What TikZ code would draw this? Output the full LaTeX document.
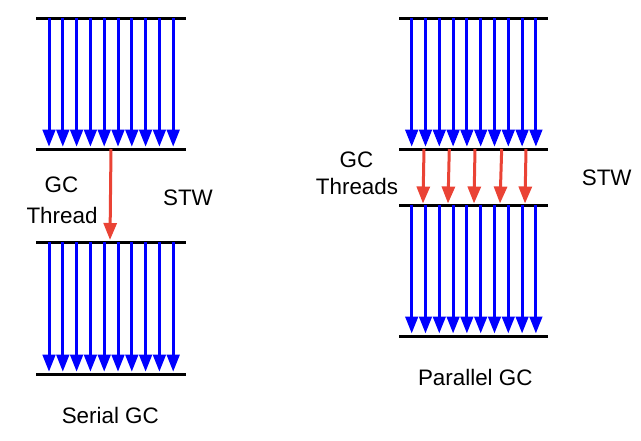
\documentclass[tikz,border=0pt]{standalone}
\usepackage{fontspec}
\setmainfont{Liberation Sans}
\usetikzlibrary{arrows.meta}
\definecolor{gcred}{RGB}{234,67,53}
\definecolor{gcblue}{RGB}{0,0,255}
\begin{document}
\begin{tikzpicture}[x=1pt,y=-1pt,
  bar/.style={line width=3pt,black},
  work/.style={gcblue,line width=3pt,-{Triangle[width=12.5pt,length=17pt]}},
  gcarrow/.style={gcred,line width=3pt,-{Triangle[width=13pt,length=17pt]}},
  lbl/.style={font=\fontsize{22.4}{30}\selectfont,inner sep=0pt,anchor=base}]
\useasboundingbox (0,0) rectangle (641,440);
% bars
\foreach \y/\n in {18/L1,149/L2,242/L3,374/L4}{
  \coordinate (\n w) at (36,\y); \coordinate (\n e) at (186,\y);
  \draw[bar] (\n w) -- (\n e);}
\foreach \y/\n in {18/R1,149/R2,205/R3,336/R4}{
  \coordinate (\n w) at (399,\y); \coordinate (\n e) at (548,\y);
  \draw[bar] (\n w) -- (\n e);}
% blue work arrows
\foreach \i in {0,...,9}{
  \coordinate (la\i) at ({49+13.8*\i},18);
  \coordinate (lb\i) at ({49+13.8*\i},146.7);
  \draw[work] (la\i) -- (lb\i);
  \coordinate (lc\i) at ({49+13.8*\i},242);
  \coordinate (ld\i) at ({49+13.8*\i},371.7);
  \draw[work] (lc\i) -- (ld\i);
  \coordinate (ra\i) at ({411.7+13.8*\i},18);
  \coordinate (rb\i) at ({411.7+13.8*\i},146.7);
  \draw[work] (ra\i) -- (rb\i);
  \coordinate (rc\i) at ({411.7+13.8*\i},205);
  \coordinate (rd\i) at ({411.7+13.8*\i},333.5);
  \draw[work] (rc\i) -- (rd\i);
}
% red GC arrows
\coordinate (sgA) at (111,149); \coordinate (sgB) at (110,240);
\draw[gcarrow] (sgA) -- (sgB);
\foreach \xa/\xb [count=\k] in {424/423,449.3/448,475/474,501.7/500,526/525}{
  \coordinate (pa\k) at (\xa,149); \coordinate (pb\k) at (\xb,203.5);
  \draw[gcarrow] (pa\k) -- (pb\k);}
% labels
\node[lbl] (lgc) at (61.5,192) {GC};
\node[lbl] (lthr) at (62,223) {Thread};
\node[lbl] (lstw) at (188,205) {STW};
\node[lbl] (rgc) at (356.5,167.3) {GC};
\node[lbl] (rthr) at (357,194) {Threads};
\node[lbl] (rstw) at (606.7,185) {STW};
\node[lbl] (serial) at (110.3,423.3) {Serial GC};
\node[lbl] (parallel) at (475.3,385) {Parallel GC};
\end{tikzpicture}
\end{document}
